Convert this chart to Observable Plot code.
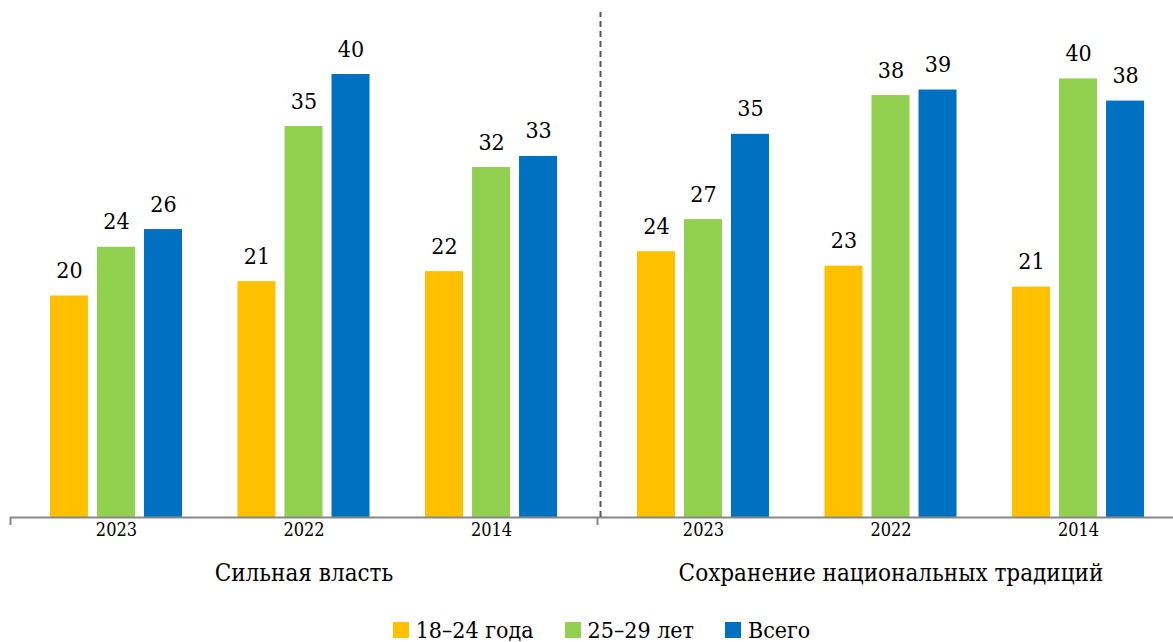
<!DOCTYPE html>
<html><head><meta charset="utf-8">
<script src="https://cdn.jsdelivr.net/npm/d3@7"></script>
<script src="https://cdn.jsdelivr.net/npm/@observablehq/plot@0.6"></script>
<style>
html,body{margin:0;padding:0;background:#fff;overflow:hidden;}
#wrap{position:relative;width:1173px;height:642px;overflow:hidden;}
#chart svg{display:block;}
.legend{position:absolute;left:0;top:616px;width:1173px;box-sizing:border-box;padding-left:30px;height:28px;display:flex;justify-content:center;align-items:center;gap:31px;font-family:'DejaVu Serif Condensed';font-size:23px;color:#000;}
.legend .item{display:flex;align-items:center;}
.legend .sw{display:inline-block;width:16px;height:16px;margin-right:7px;}
</style></head><body>
<div id="wrap"><div id="chart"></div><div class="legend" id="legend"></div></div>
<script>
// ---- data ----
const panels = ["Сильная власть", "Сохранение национальных традиций"];
const years = ["2023", "2022", "2014"];
const series = ["18–24 года", "25–29 лет", "Всего"];
const colors = ["#FFC000", "#92D050", "#0070C0"];

// values (labels show them rounded)
const power_18_24 = [20.0, 21.3, 22.2];
const power_25_29 = [24.4, 35.3, 31.6];
const power_total = [26.0, 40.0, 32.6];
const trad_18_24 = [24.0, 22.7, 20.8];
const trad_25_29 = [26.9, 38.1, 39.6];
const trad_total = [34.6, 38.6, 37.6];

const yMax = 45.6;

const panelValues = [
  [power_18_24, power_25_29, power_total],
  [trad_18_24, trad_25_29, trad_total]
];
const rows = [];
panels.forEach((p, pi) => series.forEach((s, si) => years.forEach((y, yi) => {
  rows.push({panel: p, year: y, series: s, si, value: panelValues[pi][si][yi]});
})));

// ---- layout ----
const W = 1173, H = 605;
const mL = 10, mR = -11, mT = 12, mB = 88;
const pIn = 0.296, pOut = 0.213;
const facetW = (W - mL - mR) / panels.length;
const step = facetW / (years.length - pIn + 2 * pOut);
const bw = step * (1 - pIn);
const barW = 38;
const spare = bw - barW;
const insets = [[0, spare], [spare / 2, spare / 2], [spare, 0]];
const offs = [-spare / 2, 0, spare / 2];
const edgeDx = -(bw / 2 + pOut * step);
const font = "DejaVu Serif Condensed";
const fmt = v => String(Math.round(v));

const marks = [];
series.forEach((s, si) => {
  const d = rows.filter(r => r.si === si);
  marks.push(Plot.barY(d, {fx: "panel", x: "year", y: "value", fill: colors[si],
    insetLeft: insets[si][0], insetRight: insets[si][1]}));
});
series.forEach((s, si) => {
  const d = rows.filter(r => r.si === si);
  marks.push(Plot.text(d, {fx: "panel", x: "year", y: "value", text: d => fmt(d.value),
    dx: offs[si], dy: -18, lineAnchor: "bottom", fontSize: 23, fill: "#000", fontFamily: font}));
});
marks.push(Plot.ruleY([0], {stroke: "#878787", strokeWidth: 2}));
marks.push(Plot.ruleX(panels, {fx: d => d, x: () => years[0], y1: 0, y2: 0, insetBottom: -8,
  dx: edgeDx, stroke: "#878787", strokeWidth: 2}));
marks.push(Plot.ruleX([panels[1]], {fx: d => d, x: () => years[0], y1: 0, y2: yMax,
  dx: edgeDx + 3, stroke: "#5a5a5a", strokeWidth: 2, strokeDasharray: "6,4"}));
marks.push(Plot.axisX({tickSize: 0, tickPadding: 6, fontSize: 18, fill: "#000", fontFamily: font}));
marks.push(Plot.axisFx({anchor: "bottom", tickSize: 0, tickPadding: 46, fontSize: 24, fill: "#000", fontFamily: font}));

const chart = Plot.plot({
  width: W, height: H,
  marginLeft: mL, marginRight: mR, marginTop: mT, marginBottom: mB,
  style: {fontFamily: font, background: "#fff", color: "#000", overflow: "hidden"},
  fx: {domain: panels, padding: 0, label: null, axis: null},
  x: {domain: years, paddingInner: pIn, paddingOuter: pOut, round: false, label: null, axis: null},
  y: {domain: [0, yMax], axis: null},
  marks
});
document.getElementById("chart").appendChild(chart);

const lg = document.getElementById("legend");
series.forEach((s, i) => {
  const it = document.createElement("div");
  it.className = "item";
  const sw = document.createElement("span");
  sw.className = "sw"; sw.style.background = colors[i];
  const t = document.createElement("span");
  t.textContent = s;
  it.appendChild(sw); it.appendChild(t);
  lg.appendChild(it);
});
</script>
</body></html>
